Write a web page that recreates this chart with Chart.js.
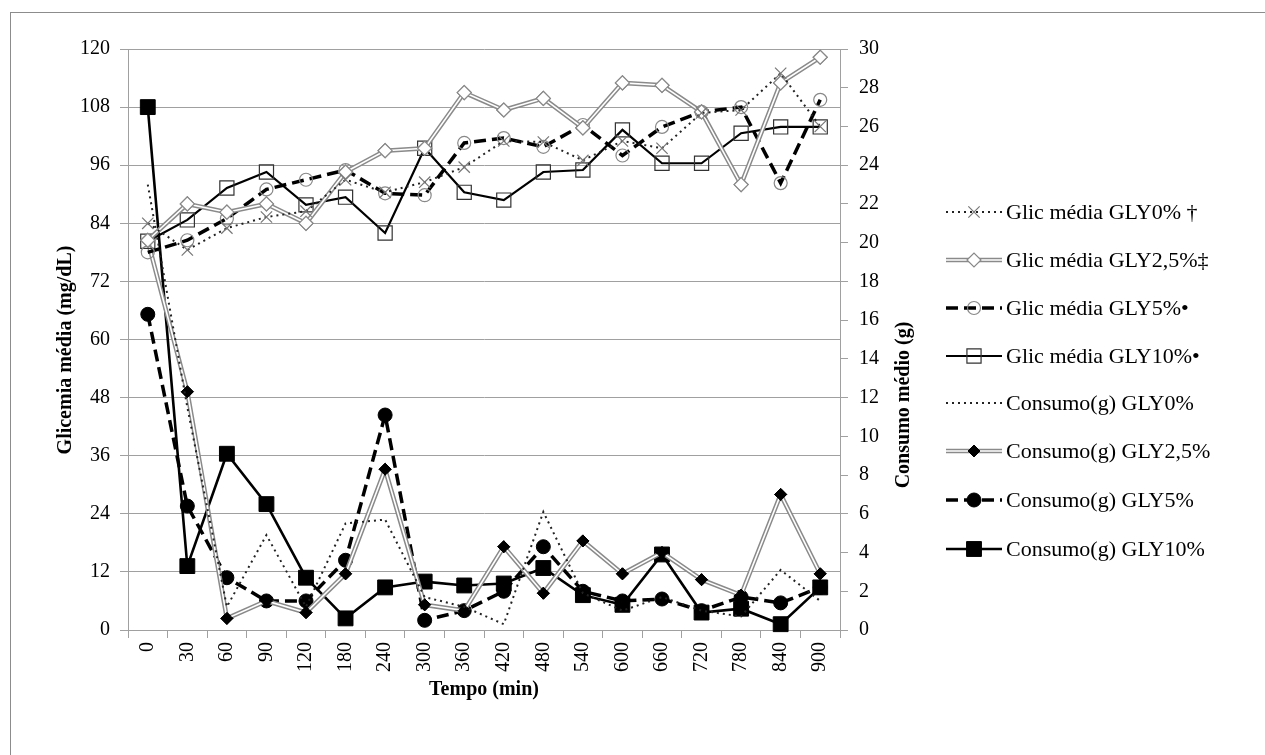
<!DOCTYPE html>
<html>
<head>
<meta charset="utf-8">
<title>Glicemia e consumo</title>
<script src="https://cdn.jsdelivr.net/npm/chart.js@4/dist/chart.umd.min.js"></script>
<style>
    html, body { margin: 0; padding: 0; background: #fff; }
    #wrap { width: 1265px; height: 755px; }
</style>
</head>
<body>
<div id="wrap"><canvas id="glicChart" width="1265" height="755"></canvas></div>
<script>
// Eixo x (min)
var tempos = ['0', '30', '60', '90', '120', '180', '240', '300', '360', '420', '480', '540', '600', '660', '720', '780', '840', '900'];

// Glicemia media (mg/dL) - eixo esquerdo
var glicGly0 = [84, 78.5, 83, 85.3, 86.5, 93, 90.4, 92.5, 95.6, 101, 100.8, 97, 101, 99.5, 106.8, 107.4, 115, 104];
var glicGly25 = [80.5, 88, 86.3, 88, 84, 94.6, 99, 99.5, 111, 107.4, 109.8, 103.7, 113, 112.5, 107, 92, 113, 118.3];
var glicGly5 = [78, 80.5, 85, 91, 93, 95, 90.2, 89.8, 100.6, 101.6, 99.8, 104.3, 98, 103.9, 107, 108, 92.3, 109.5];
var glicGly10 = [80.3, 84.7, 91.3, 94.6, 87.8, 89.4, 82, 99.5, 90.4, 88.8, 94.6, 95, 103.3, 96.4, 96.4, 102.6, 103.9, 103.9];

// Consumo medio (g) - eixo direito
var consumoGly0 = [23, 11.5, 1.2, 4.9, 1.2, 5.5, 5.7, 1.7, 1.2, 0.3, 6.1, 1.9, 1.0, 1.7, 1.0, 0.7, 3.1, 1.5];
var consumoGly25 = [20.1, 12.3, 0.6, 1.5, 0.9, 2.9, 8.3, 1.3, 1.0, 4.3, 1.9, 4.6, 2.9, 4.0, 2.6, 1.8, 7.0, 2.9];
var consumoGly5 = [16.3, 6.4, 2.7, 1.5, 1.5, 3.6, 11.1, 0.5, 1.0, 2.0, 4.3, 2.0, 1.5, 1.6, 1.0, 1.7, 1.4, 2.2];
var consumoGly10 = [27, 3.3, 9.1, 6.5, 2.7, 0.6, 2.2, 2.5, 2.3, 2.4, 3.2, 1.8, 1.3, 3.9, 0.9, 1.1, 0.3, 2.2];

var legendRows = [212, 260, 308, 356, 403, 451, 500, 549];

var FONT = '"Liberation Serif", "Times New Roman", serif';
Chart.defaults.font.family = FONT;
Chart.defaults.color = '#000';

var AXIS_GRAY = '#a0a0a0';

// double line (gray outer, white inner) + redraw markers on top
var doubleLinePlugin = {
    id: 'doubleLine',
    afterDatasetDraw: function (chart, args) {
        var ds = chart.data.datasets[args.index];
        if (!ds.doubleLine) return;
        var ctx = chart.ctx;
        var pts = args.meta.data;
        ctx.save();
        ctx.beginPath();
        pts.forEach(function (p, i) {
            if (i === 0) ctx.moveTo(p.x, p.y); else ctx.lineTo(p.x, p.y);
        });
        ctx.strokeStyle = '#fff';
        ctx.lineWidth = 1.6;
        ctx.lineJoin = 'miter';
        ctx.stroke();
        ctx.restore();
        pts.forEach(function (p) { p.draw(ctx, chart.chartArea); });
    }
};

// border, axis titles and legend
var decorPlugin = {
    id: 'decor',
    beforeDraw: function (chart) {
        var ctx = chart.ctx;
        ctx.save();
        ctx.fillStyle = '#fff';
        ctx.fillRect(0, 0, chart.width, chart.height);
        ctx.strokeStyle = '#8c8c8c';
        ctx.lineWidth = 1;
        ctx.strokeRect(10.5, 12.5, 1300, 800);
        ctx.restore();
    },
    afterDraw: function (chart) {
        var ctx = chart.ctx;
        ctx.save();
        ctx.fillStyle = '#000';
        ctx.font = 'bold 20px ' + FONT;
        ctx.textAlign = 'center';
        ctx.textBaseline = 'middle';

        ctx.save();
        ctx.translate(66, 350);
        ctx.rotate(-Math.PI / 2);
        ctx.fillText('Glicemia média (mg/dL)', 0, 0);
        ctx.restore();

        ctx.save();
        ctx.translate(904, 405);
        ctx.rotate(-Math.PI / 2);
        ctx.fillText('Consumo médio (g)', 0, 0);
        ctx.restore();

        ctx.fillText('Tempo (min)', 484, 690);

        // legend
        chart.data.datasets.forEach(function (ds, i) {
            var y = legendRows[i];
            ctx.save();
            ctx.beginPath();
            ctx.setLineDash(ds.borderDash || []);
            ctx.lineWidth = ds.borderWidth;
            ctx.strokeStyle = ds.borderColor;
            ctx.moveTo(946, y);
            ctx.lineTo(1002, y);
            ctx.stroke();
            if (ds.doubleLine) {
                ctx.beginPath();
                ctx.strokeStyle = '#fff';
                ctx.lineWidth = 1.6;
                ctx.moveTo(946, y);
                ctx.lineTo(1002, y);
                ctx.stroke();
            }
            ctx.setLineDash([]);
            if (ds.pointRadius > 0 && Chart.helpers && Chart.helpers.drawPoint) {
                ctx.fillStyle = ds.pointBackgroundColor;
                ctx.strokeStyle = ds.pointBorderColor;
                ctx.lineWidth = ds.pointBorderWidth;
                Chart.helpers.drawPoint(ctx, {
                    pointStyle: ds.pointStyle,
                    radius: ds.pointRadius,
                    rotation: 0,
                    borderWidth: ds.pointBorderWidth
                }, 974, y);
            }
            ctx.restore();

            ctx.font = '22px ' + FONT;
            ctx.textAlign = 'left';
            ctx.textBaseline = 'middle';
            ctx.fillStyle = '#000';
            ctx.fillText(ds.label, 1006, y + 1);
        });
        ctx.restore();
    }
};

var glicCtx = document.getElementById('glicChart');
new Chart(glicCtx, {
    type: 'line',
    data: {
        labels: tempos,
        datasets: [{
            label: 'Glic média GLY0% †',
            data: glicGly0,
            yAxisID: 'y',
            borderColor: '#222',
            borderWidth: 2,
            borderDash: [2, 4],
            pointStyle: 'crossRot',
            pointRadius: 8,
            pointBorderColor: '#777',
            pointBackgroundColor: 'rgba(255,255,255,0)',
            pointBorderWidth: 1.2
        }, {
            label: 'Glic média GLY2,5%‡',
            data: glicGly25,
            yAxisID: 'y',
            doubleLine: true,
            borderColor: '#8a8a8a',
            borderWidth: 4.6,
            pointStyle: 'rectRot',
            pointRadius: 7,
            pointBorderColor: '#888',
            pointBackgroundColor: '#fff',
            pointBorderWidth: 1.2
        }, {
            label: 'Glic média GLY5%•',
            data: glicGly5,
            yAxisID: 'y',
            borderColor: '#000',
            borderWidth: 3.5,
            borderDash: [12, 6],
            pointStyle: 'circle',
            pointRadius: 6.5,
            pointBorderColor: '#888',
            pointBackgroundColor: 'rgba(255,255,255,0)',
            pointBorderWidth: 1.2
        }, {
            label: 'Glic média GLY10%•',
            data: glicGly10,
            yAxisID: 'y',
            borderColor: '#000',
            borderWidth: 2.2,
            pointStyle: 'rect',
            pointRadius: 10,
            pointBorderColor: '#333',
            pointBackgroundColor: 'rgba(255,255,255,0)',
            pointBorderWidth: 1.2
        }, {
            label: 'Consumo(g) GLY0%',
            data: consumoGly0,
            yAxisID: 'y2',
            borderColor: '#222',
            borderWidth: 2,
            borderDash: [2, 4],
            pointRadius: 0
        }, {
            label: 'Consumo(g) GLY2,5%',
            data: consumoGly25,
            yAxisID: 'y2',
            doubleLine: true,
            borderColor: '#8a8a8a',
            borderWidth: 4.6,
            pointStyle: 'rectRot',
            pointRadius: 6,
            pointBorderColor: '#000',
            pointBackgroundColor: '#000',
            pointBorderWidth: 1
        }, {
            label: 'Consumo(g) GLY5%',
            data: consumoGly5,
            yAxisID: 'y2',
            borderColor: '#000',
            borderWidth: 3.5,
            borderDash: [12, 6],
            pointStyle: 'circle',
            pointRadius: 7,
            pointBorderColor: '#000',
            pointBackgroundColor: '#000',
            pointBorderWidth: 1
        }, {
            label: 'Consumo(g) GLY10%',
            data: consumoGly10,
            yAxisID: 'y2',
            borderColor: '#000',
            borderWidth: 2.6,
            pointStyle: 'rect',
            pointRadius: 10.5,
            pointBorderColor: '#000',
            pointBackgroundColor: '#000',
            pointBorderWidth: 1
        }]
    },
    options: {
        responsive: false,
        devicePixelRatio: 1,
        animation: false,
        clip: false,
        layout: {
            autoPadding: false,
            padding: { top: 49, left: 0, right: 0, bottom: 0 }
        },
        elements: {
            line: { tension: 0, fill: false, borderCapStyle: 'butt' }
        },
        plugins: {
            legend: { display: false },
            tooltip: { enabled: false }
        },
        scales: {
            x: {
                offset: true,
                grid: {
                    offset: true,
                    drawOnChartArea: false,
                    color: AXIS_GRAY,
                    tickLength: 8
                },
                border: { color: AXIS_GRAY },
                ticks: {
                    minRotation: 90,
                    maxRotation: 90,
                    padding: 4,
                    autoSkip: false,
                    font: { size: 20 },
                    color: '#000'
                },
                afterFit: function (scale) { scale.height = 125; }
            },
            y: {
                position: 'left',
                min: 0,
                max: 120,
                ticks: {
                    stepSize: 12,
                    padding: 10,
                    font: { size: 20 },
                    color: '#000'
                },
                grid: {
                    color: AXIS_GRAY,
                    tickLength: 8
                },
                border: { color: AXIS_GRAY },
                afterFit: function (scale) { scale.width = 128; }
            },
            y2: {
                position: 'right',
                min: 0,
                max: 30,
                ticks: {
                    stepSize: 2,
                    padding: 11,
                    font: { size: 20 },
                    color: '#000'
                },
                grid: {
                    drawOnChartArea: false,
                    color: AXIS_GRAY,
                    tickLength: 8
                },
                border: { color: AXIS_GRAY },
                afterFit: function (scale) { scale.width = 425; }
            }
        }
    },
    plugins: [doubleLinePlugin, decorPlugin]
});
</script>
</body>
</html>
